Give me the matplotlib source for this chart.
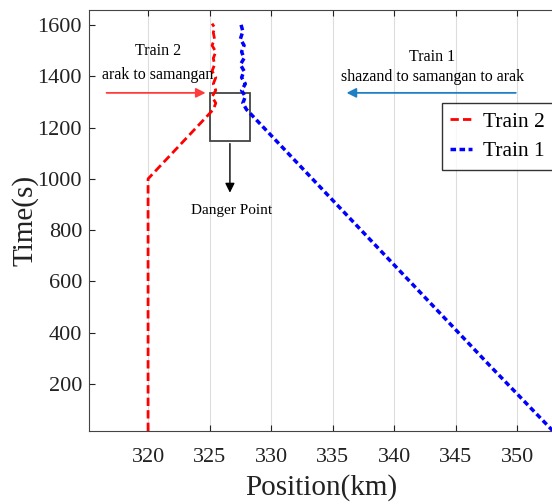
import matplotlib
matplotlib.use("Agg")
import matplotlib.pyplot as plt
from matplotlib.patches import Rectangle

plt.rcParams['font.family'] = ['Liberation Serif', 'DejaVu Serif']

# Train 2 (red): position (km) vs time (s)
train2_pos = [320.0, 320.0, 325.3, 325.5, 325.2, 325.5, 325.3, 325.5, 325.2, 325.4,
              325.3, 325.5, 325.2, 325.4, 325.3, 325.4, 325.2]
train2_time = [17, 1000, 1270, 1295, 1320, 1345, 1370, 1395, 1420, 1445,
               1470, 1495, 1520, 1545, 1570, 1590, 1605]

# Train 1 (blue)
train1_pos = [352.9, 347.8, 328.0, 327.7, 327.9, 327.6, 327.9, 327.6, 327.8, 327.5,
              327.8, 327.6, 327.8, 327.5, 327.7, 327.5]
train1_time = [17, 270, 1270, 1295, 1320, 1345, 1370, 1395, 1420, 1445,
               1470, 1495, 1520, 1545, 1575, 1610]

xticks = [320, 325, 330, 335, 340, 345, 350]
yticks = [200, 400, 600, 800, 1000, 1200, 1400, 1600]

fig = plt.figure(figsize=(5.52, 5.04), dpi=100)
ax = fig.add_axes([89/552, 73/504, (553-89)/552, (431-10)/504])

ax.plot(train2_pos, train2_time, color='#ff0000', linestyle=(0, (3, 1.5)), linewidth=2, label='Train 2')
ax.plot(train1_pos, train1_time, color='#0000ff', linestyle=(0, (1.6, 1)), linewidth=2.5, label='Train 1')

ax.set_xlim(315.2, 352.9)
ax.set_ylim(17, 1658)
ax.set_xticks(xticks)
ax.set_yticks(yticks)
ax.tick_params(direction='in', top=True, right=False, labelsize=16, colors='#222222', length=4)
ax.tick_params(axis='x', pad=12)
ax.tick_params(axis='y', pad=5)
ax.grid(axis='x', color='#dddddd', linewidth=0.8)
ax.set_axisbelow(True)
for s in ax.spines.values():
    s.set_color('#444444')

ax.set_xlabel('Position(km)', fontsize=21, color='#222222', labelpad=5)
ax.set_ylabel('Time(s)', fontsize=21, color='#222222', labelpad=-1)

# Danger box
ax.add_patch(Rectangle((325.0, 1148), 3.3, 187, fill=False, edgecolor='#444444', linewidth=1.3))
ax.annotate('', xy=(326.65, 935), xytext=(326.65, 1148),
            arrowprops=dict(arrowstyle='-|>', color='black', lw=1, mutation_scale=14))
ax.text(326.8, 875, 'Danger Point', ha='center', va='center', fontsize=11)

# Train 2 annotation
ax.annotate('', xy=(324.9, 1335), xytext=(316.4, 1335),
            arrowprops=dict(arrowstyle='-|>', color='#ff3b3b', lw=1.3, mutation_scale=14))
ax.text(320.8, 1500, 'Train 2', ha='center', va='center', fontsize=11.5)
ax.text(320.8, 1405, 'arak to samangan', ha='center', va='center', fontsize=11.5)

# Train 1 annotation
ax.annotate('', xy=(335.9, 1335), xytext=(350.1, 1335),
            arrowprops=dict(arrowstyle='-|>', color='#1f7fc4', lw=1.3, mutation_scale=14))
ax.text(343.1, 1475, 'Train 1', ha='center', va='center', fontsize=11.5)
ax.text(343.1, 1395, 'shazand to samangan to arak', ha='center', va='center', fontsize=11.5)

leg = ax.legend(loc='upper right', bbox_to_anchor=(1.0, (431-103)/421), fontsize=15.5,
                frameon=True, fancybox=False, handlelength=1.0, borderpad=0.4,
                labelspacing=0.45, handletextpad=0.5, borderaxespad=0)
leg.get_frame().set_edgecolor('black')
leg.get_frame().set_linewidth(1)

fig.savefig('out.png', dpi=100)
